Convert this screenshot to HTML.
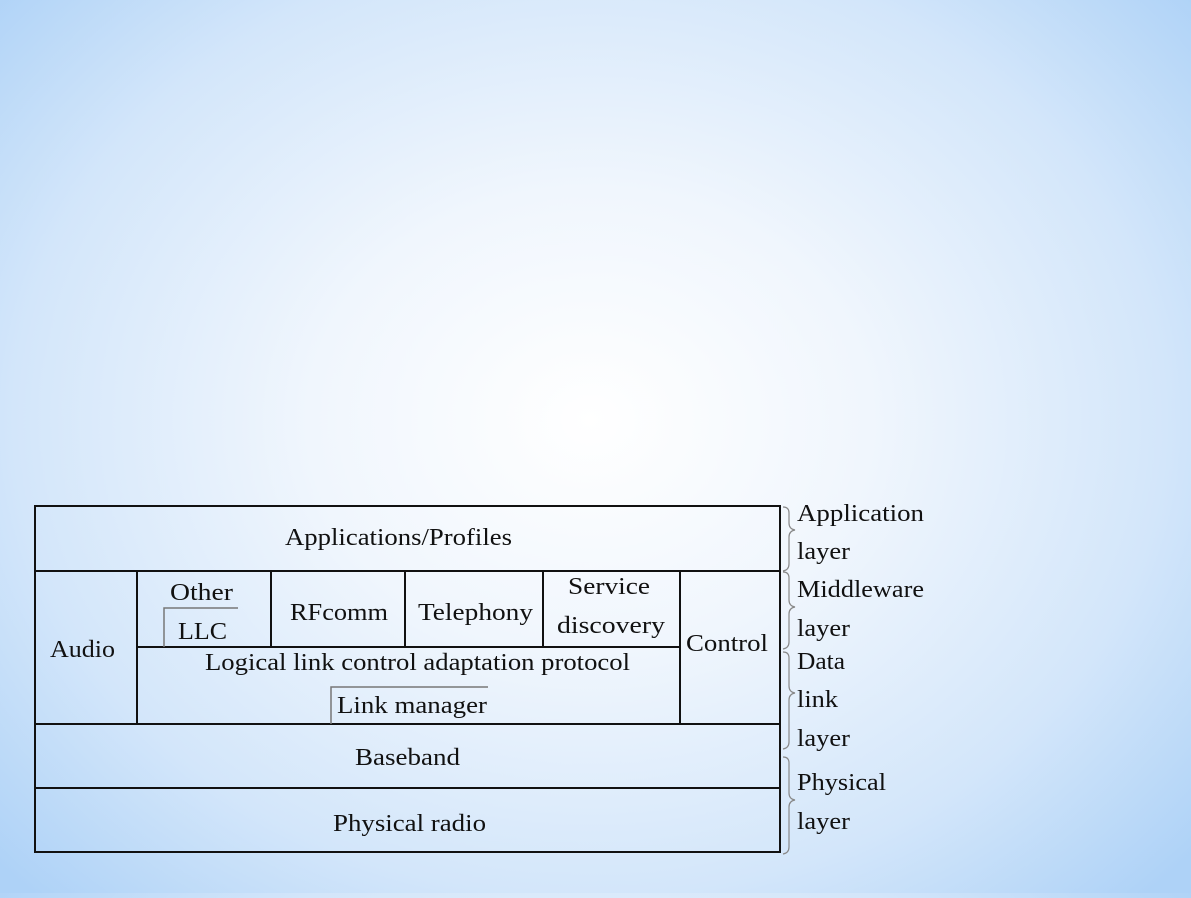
<!DOCTYPE html>
<html><head><style>
html,body{margin:0;padding:0}
body{width:1191px;height:893px;overflow:hidden;background:radial-gradient(ellipse 800px 660px at 590px 420px,#ffffff 0%,#f0f6fd 35%,#d3e6fa 72%,#aed2f7 100%);}
svg text{font-family:"Liberation Serif","DejaVu Serif","Times New Roman",serif;font-size:24px;fill:#111}
</style></head><body>
<svg width="1191" height="893" xmlns="http://www.w3.org/2000/svg">
<g stroke="#111" stroke-width="2" fill="none">
<rect x="35" y="506" width="745" height="346"/>
<line x1="35" y1="571" x2="780" y2="571"/>
<line x1="35" y1="724" x2="780" y2="724"/>
<line x1="35" y1="788" x2="780" y2="788"/>
<line x1="137" y1="571" x2="137" y2="724"/>
<line x1="680" y1="571" x2="680" y2="724"/>
<line x1="137" y1="647" x2="680" y2="647"/>
<line x1="271" y1="571" x2="271" y2="647"/>
<line x1="405" y1="571" x2="405" y2="647"/>
<line x1="543" y1="571" x2="543" y2="647"/>
</g>
<g stroke="#777" stroke-width="1.5" fill="none">
<polyline points="164,647 164,608 238,608"/>
<polyline points="331,724 331,687 488,687"/>
</g>
<g stroke="#888" stroke-width="1.2" fill="none">
<path d="M783,507 q6,0 6,6 v10 q0,6 6,7 q-6,1 -6,7 v27 q0,6 -6,7"/>
<path d="M783,572 q6,0 6,6 v22 q0,6 6,7 q-6,1 -6,7 v28 q0,6 -6,7"/>
<path d="M783,652 q6,0 6,6 v28 q0,6 6,7 q-6,1 -6,7 v42 q0,6 -6,7"/>
<path d="M783,757 q6,0 6,6 v30 q0,6 6,7 q-6,1 -6,7 v40 q0,6 -6,7"/>
</g>
<g lengthAdjust="spacingAndGlyphs">
<text x="285" y="545" textLength="227" lengthAdjust="spacingAndGlyphs">Applications/Profiles</text>
<text x="50" y="657" textLength="65" lengthAdjust="spacingAndGlyphs">Audio</text>
<text x="170" y="600" textLength="63" lengthAdjust="spacingAndGlyphs">Other</text>
<text x="178" y="639" textLength="49" lengthAdjust="spacingAndGlyphs">LLC</text>
<text x="290" y="620" textLength="98" lengthAdjust="spacingAndGlyphs">RFcomm</text>
<text x="418" y="620" textLength="115" lengthAdjust="spacingAndGlyphs">Telephony</text>
<text x="568" y="594" textLength="82" lengthAdjust="spacingAndGlyphs">Service</text>
<text x="557" y="633" textLength="108" lengthAdjust="spacingAndGlyphs">discovery</text>
<text x="686" y="651" textLength="82" lengthAdjust="spacingAndGlyphs">Control</text>
<text x="205" y="670" textLength="425" lengthAdjust="spacingAndGlyphs">Logical link control adaptation protocol</text>
<text x="337" y="713" textLength="150" lengthAdjust="spacingAndGlyphs">Link manager</text>
<text x="355" y="765" textLength="105" lengthAdjust="spacingAndGlyphs">Baseband</text>
<text x="333" y="831" textLength="153" lengthAdjust="spacingAndGlyphs">Physical radio</text>
<text x="797" y="521" textLength="127" lengthAdjust="spacingAndGlyphs">Application</text>
<text x="797" y="559" textLength="53" lengthAdjust="spacingAndGlyphs">layer</text>
<text x="797" y="597" textLength="127" lengthAdjust="spacingAndGlyphs">Middleware</text>
<text x="797" y="636" textLength="53" lengthAdjust="spacingAndGlyphs">layer</text>
<text x="797" y="669" textLength="48" lengthAdjust="spacingAndGlyphs">Data</text>
<text x="797" y="707" textLength="41" lengthAdjust="spacingAndGlyphs">link</text>
<text x="797" y="746" textLength="53" lengthAdjust="spacingAndGlyphs">layer</text>
<text x="797" y="790" textLength="89" lengthAdjust="spacingAndGlyphs">Physical</text>
<text x="797" y="829" textLength="53" lengthAdjust="spacingAndGlyphs">layer</text>
</g>
</svg>
</body></html>
